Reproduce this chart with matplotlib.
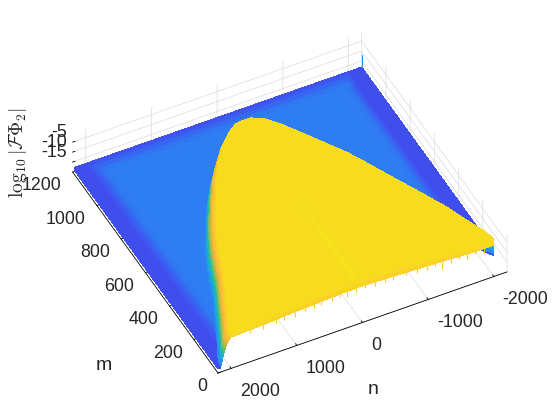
import numpy as np
import matplotlib
matplotlib.use('Agg')
import matplotlib.pyplot as plt
from matplotlib.colors import LinearSegmentedColormap, Normalize
from mpl_toolkits.mplot3d import proj3d
from mpl_toolkits.mplot3d.art3d import Line3DCollection

plt.rcParams['font.family'] = ['Liberation Sans', 'DejaVu Sans']
plt.rcParams['mathtext.fontset'] = 'cm'
plt.rcParams['axes.unicode_minus'] = False

# values
n_ticks = [-2000, -1000, 0, 1000, 2000]
m_ticks = [0, 200, 400, 600, 800, 1000, 1200]
z_ticks = [-15, -10, -5]
edge_n = [1975, 1966, 1835, 1675, 1512, 1405, 1295, 1155, 1008, 855, 706, 555, 409, 245, 87,
          40, 0, -40,
          -148, -322, -460, -600, -738, -880, -1020, -1145, -1263, -1385, -1505, -1630, -1752, -1850,
          -1941, -1980, -2008, -2008, -1998]
edge_m = [0, 28, 111, 216, 322, 406, 488, 571, 651, 731, 806, 869, 926, 971, 1001,
          1003, 1004, 1005,
          1005, 975, 926, 866, 805, 741, 678, 608, 538, 466, 398, 323, 251, 176,
          107, 85, 50, 20, 0]
foot_dn = [180, 180, 170, 170, 170, 175, 180, 190, 190, 180, 170, 150, 110, 60, 20,
           10, 0, -10,
           -30, -60, -80, -100, -100, -100, -100, -100, -100, -100, -100, -100, -110, -120,
           -140, -160, -170, -180, -190]
front_m = [0, 0, 2, 3, 5, 7, 9, 12, 14, 16, 18, 20, 22, 24, 24,
           24, 24, 24,
           24, 22, 20, 18, 16, 14, 12, 10, 8, 6, 4, 2, 1, 0,
           0, 0, 0, 0, 0]
ridge_n = [40, 0, -40]
ridge_z = [0.0, 0.3, 0.0]
row_frac = [0, .012, .03, .3, .5, .75, 1]
row_z = [-4.3, -3.8, -3.5, -3.5, -3.5, -3.5, -3.5]
ridge_fade = [1, 1, 1, .8, .35, 0, 0]
slope_t = [0, .1, .2, .3, .4, .5, .6, .7, .8, .9, 1]
slope_z = [-3.5, -3.85, -4.44, -5.15, -5.97, -7.15, -8.55, -10.2, -12.3, -14.65, -17]
band_n = [2200, 2000, 1960, 1920, 1880, 1840, 1800, -1800, -1840, -1880, -1920, -1960, -2000, -2200]
band_z = [-18, -18, -17.75, -17.45, -17.2, -17.05, -17, -17, -17.05, -17.2, -17.45, -17.75, -18, -18]
back_m = [1120, 1145, 1170, 1185, 1200]
back_z = [-17, -17.2, -17.6, -17.9, -18]
spike_n = [1700, 1500, 1300, 1180, 1000, 850, 700, 600, 430, 300, 190, 60, -90, -240, -380, -500, -700,
           -860, -1000, -1130, -1225, -1360, -1480, -1600, -1720, -1850]
spike_depth = [1.5, 2, 1.5, 2, 2.5, 1.5, 2, 1.5, 2, 1.5, 3, 1.5, 1.5, 2, 1.5, 2, 1.5,
               2, 2, 1.5, 3.5, 2, 1.5, 2.5, 1.5, 2]
corner_spike_z = [-18, -12]

parula = LinearSegmentedColormap.from_list('parula', [
    (0.0, (.2422, .1504, .6603)), (.056, (.255, .31, .94)), (.118, (.18, .49, .95)),
    (.25, (.15, .59, .92)), (.35, (.10, .67, .87)), (.45, (.10, .72, .70)), (.55, (.30, .75, .50)),
    (.65, (.60, .74, .30)), (.75, (.88, .72, .24)), (.83, (.99, .73, .22)), (.955, (.97, .86, .12)),
    (1.0, (.98, .96, .08))])
norm = Normalize(-18.9, -2.77)


def face_colors(Z):
    return parula(norm((Z[:-1, :-1] + Z[1:, :-1] + Z[:-1, 1:] + Z[1:, 1:]) / 4))


fig = plt.figure(figsize=(5.6, 4.2), dpi=100)
ax = fig.add_axes([0, 0, 1, 1], projection='3d', proj_type='ortho', computed_zorder=False)
ax.view_init(elev=44.06, azim=-116.7)
ax.set_xlim(2200, -2200)
ax.set_ylim(0, 1200)
ax.set_zlim(-20, -1)
zoom = 1.0
ax.set_box_aspect((1, 1, .163), zoom=zoom)

en = np.array(edge_n, float)
em = np.array(edge_m, float)
dn = np.array(foot_dn, float)
fm = np.array(front_m, float)

# floor outside the plateau, with columns at the band knots as well
bn = np.r_[2200, np.clip(en + dn, -2200, 2200), -2200]
bm = np.r_[0, em, 0]
bn_all = np.unique(np.r_[bn, band_n])[::-1]
bm_all = np.interp(-bn_all, -bn, bm)
rows = np.vstack([bm_all] + [np.full_like(bm_all, v) for v in back_m])
Xb = np.tile(bn_all, (rows.shape[0], 1))
zn = np.interp(-bn_all, -np.array(band_n, float), band_z)
zm = np.r_[-17, back_z][:, None]
Zb = np.minimum(np.tile(zn, (rows.shape[0], 1)), zm)
ax.plot_surface(Xb, rows, Zb, facecolors=face_colors(Zb), rstride=1, cstride=1, shade=False,
                linewidth=0, antialiased=False, zorder=1)

# slope round the plateau
st = np.array(slope_t)[:, None]
Xs = np.clip(en[None, :] + st * dn[None, :], -2200, 2200)
Ys = np.tile(em, (st.size, 1))
Zs = np.tile(np.array(slope_z)[:, None], (1, en.size))
ax.plot_surface(Xs, Ys, Zs, facecolors=face_colors(Zs), rstride=1, cstride=1, shade=False,
                linewidth=0, antialiased=False, zorder=2)

# plateau
rf = np.array(row_frac)[:, None]
Xp = np.tile(en, (rf.size, 1))
Yp = fm[None, :] + rf * (em - fm)[None, :]
rid = np.zeros_like(en)
for a, b in zip(ridge_n, ridge_z):
    rid[en == a] = b
Zp = np.array(row_z)[:, None] + np.array(ridge_fade)[:, None] * rid[None, :]
ax.plot_surface(Xp, Yp, Zp, facecolors=face_colors(Zp), rstride=1, cstride=1, shade=False,
                linewidth=0, antialiased=False, zorder=3)

# spikes on the front rim and the corner spike
order = np.argsort(en)
segs = []
for a, d in zip(spike_n, spike_depth):
    rim = np.interp(a, en[order], fm[order])
    segs.append([(a, rim, row_z[0]), (a, rim, row_z[0] - d)])
ax.add_collection3d(Line3DCollection(segs, colors=[(.98, .78, .2)], linewidths=.8, zorder=4))
ax.plot([-2200, -2200], [1200, 1200], corner_spike_z, color=(.1, .6, .85), lw=.8, zorder=4)

# axes
ax.set_xticks(n_ticks)
ax.set_yticks(m_ticks)
ax.set_zticks(z_ticks)
ink = (.15, .15, .15)
for axis, ha in ((ax.xaxis, 'left'), (ax.yaxis, 'right'), (ax.zaxis, 'right')):
    axis.set_pane_color((1, 1, 1, 1))
    axis.pane.set_edgecolor((1, 1, 1, 1))
    axis._axinfo['grid'].update(color=(.87, .87, .87), linewidth=.55)
    axis._axinfo['tick'].update(inward_factor=0, outward_factor=.1, linewidth={True: .6, False: .6})
    axis._axinfo['axisline']['color'] = ink
    axis.line.set_linewidth(.6)
    for t in axis.get_major_ticks():
        t.label1.set_ha(ha)
        t.label1.set_fontsize(12.8)
        t.label1.set_color(ink)
for t in ax.zaxis.get_major_ticks():
    t.label1.set_va('bottom')
for t in ax.yaxis.get_major_ticks():
    t.label1.set_va('top')
ax.zaxis.line.set_color((0, 0, 0, 0))
ax.tick_params(axis='x', pad=1.5)
ax.tick_params(axis='y', pad=-2)
ax.tick_params(axis='z', pad=-6)

fig.text(373 / 560, 1 - 390 / 420, 'n', fontsize=14, color=ink, ha='center', va='center')
fig.text(104 / 560, 1 - 366 / 420, 'm', fontsize=14, color=ink, ha='center', va='center')
fig.text(18 / 560, 1 - 153 / 420, r'$\mathrm{log}_{10}\,|\mathcal{F}\Phi_2|$', fontsize=14, color=ink,
         rotation=90, ha='center', va='center')


# fit the box onto the reference corners
def px(x, y, z):
    X, Y, _ = proj3d.proj_transform(x, y, z, ax.get_proj())
    return ax.transData.transform((X, Y))


fig.canvas.draw()
span = np.linalg.norm(px(-2200, 0, -20) - px(2200, 0, -20))
zoom *= np.hypot(289, 101) / span
ax.set_box_aspect((1, 1, .163), zoom=zoom)
fig.canvas.draw()
o = px(2200, 0, -20)
dx, dy = 218 - o[0], (420 - 373) - o[1]
ax.set_position([dx / 560, dy / 420, 1, 1])

fig.savefig('out.png', dpi=100)
